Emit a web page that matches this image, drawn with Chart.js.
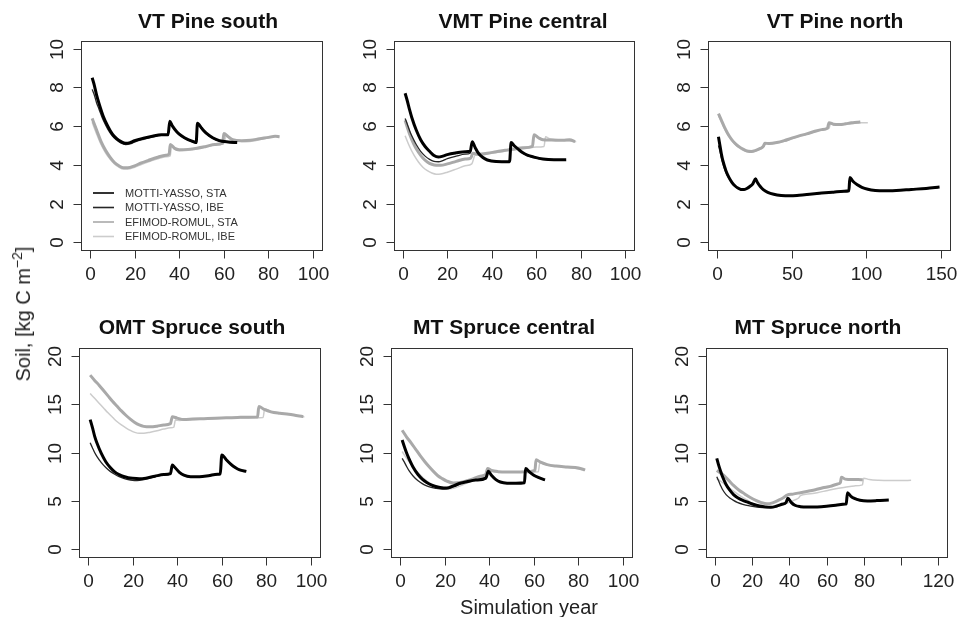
<!DOCTYPE html>
<html>
<head>
<meta charset="utf-8">
<script src="https://cdn.jsdelivr.net/npm/chart.js@4.4.0/dist/chart.umd.min.js"></script>
<style>
body { margin: 0; background: #fff; }
#wrap { position: relative; width: 957px; height: 617px; overflow: hidden; font-family: "Liberation Sans", Arial, sans-serif; }
canvas { position: absolute; left: 0; top: 0; }
.lab { position: absolute; white-space: nowrap; font-size: 20px; line-height: 20px; color: #222; }
.sup { font-size: 14px; position: relative; top: -8px; }
</style>
</head>
<body>
<div id="wrap">
	<canvas id="p1" width="957" height="617"></canvas>
	<canvas id="p2" width="957" height="617"></canvas>
	<canvas id="p3" width="957" height="617"></canvas>
	<canvas id="p4" width="957" height="617"></canvas>
	<canvas id="p5" width="957" height="617"></canvas>
	<canvas id="p6" width="957" height="617"></canvas>
	<div class="lab" style="left:529px;top:607px;transform:translate(-50%,-50%)">Simulation year</div>
	<div class="lab" style="left:24px;top:314px;transform:translate(-50%,-50%) rotate(-90deg)">Soil, [kg C m<span class="sup">−2</span>]</div>
</div>
<script>
//series
const seriesNames = ["MOTTI-YASSO, STA", "MOTTI-YASSO, IBE", "EFIMOD-ROMUL, STA", "EFIMOD-ROMUL, IBE"];
const lineColors = ["#000000", "#262626", "#a9a9a9", "#cccccc"];
const lineWidths = [3, 1.3, 3, 1.5];

//VT Pine south  [year, soil C]
const pineSouthMottiSta = [[1,8.5],[2,8.1],[3,7.6],[4,7.2],[6,6.5],[8,6.0],[10,5.6],[12,5.35],[14,5.2],[16,5.12],[18,5.15],[20,5.25],[24,5.38],[28,5.48],[32,5.55],[35,5.55],[35.8,6.25],[37,6.0],[39,5.7],[41,5.5],[44,5.3],[47,5.17],[47.6,5.15],[48.2,6.15],[50,5.9],[52,5.65],[55,5.4],[58,5.25],[62,5.18],[66,5.15]];
const pineSouthMottiIbe = [[1,7.9],[2,7.6],[3,7.2],[4,6.9],[6,6.3],[8,5.85],[10,5.5],[12,5.28],[14,5.12],[16,5.05],[18,5.08],[20,5.18],[24,5.32],[28,5.44],[32,5.52],[35,5.53],[35.8,6.2],[37,5.97],[39,5.68],[41,5.48],[44,5.28],[47,5.15],[47.6,5.13],[48.2,6.1],[50,5.87],[52,5.62],[55,5.38],[58,5.23],[62,5.16],[64,5.14]];
const pineSouthEfimodSta = [[1,6.4],[3,5.8],[5,5.2],[7,4.75],[9,4.4],[11,4.12],[13,3.95],[15,3.85],[17,3.85],[20,3.95],[23,4.1],[26,4.22],[30,4.38],[34,4.5],[35.5,4.55],[36,5.05],[38,4.85],[40,4.78],[44,4.8],[48,4.86],[52,4.95],[56,5.05],[59.5,5.12],[60,5.62],[62,5.45],[64,5.3],[68,5.25],[72,5.27],[76,5.35],[80,5.42],[83,5.48],[85,5.45]];
const pineSouthEfimodIbe = [[1,6.2],[3,5.6],[5,5.05],[7,4.62],[9,4.3],[11,4.05],[13,3.88],[15,3.78],[17,3.78],[20,3.88],[23,4.02],[26,4.15],[30,4.3],[34,4.42],[36,4.47],[36.5,4.95],[38,4.8],[40,4.73],[44,4.76],[48,4.83],[52,4.92],[56,5.02],[60,5.1],[61,5.5],[63,5.35],[66,5.22],[70,5.2],[74,5.25],[78,5.35],[82,5.42]];

//VMT Pine central
const pineCentralMottiSta = [[1,7.7],[2,7.3],[3,6.85],[4,6.45],[6,5.8],[8,5.3],[10,4.95],[12,4.7],[14,4.48],[16,4.4],[18,4.45],[20,4.53],[24,4.62],[28,4.68],[30.3,4.7],[31.2,5.2],[32.5,4.9],[34,4.6],[36,4.38],[38,4.25],[42,4.17],[48,4.16],[48.7,5.15],[50,5.0],[52,4.8],[54,4.62],[56,4.5],[59,4.4],[63,4.3],[68,4.26],[73.5,4.27]];
const pineCentralMottiIbe = [[1,6.4],[2,6.1],[3,5.78],[4,5.5],[6,5.05],[8,4.7],[10,4.45],[12,4.28],[14,4.18],[16,4.16],[18,4.22],[20,4.32],[24,4.45],[28,4.55],[30.3,4.6],[31.2,5.15],[32.5,4.88],[34,4.58],[36,4.36],[38,4.24],[42,4.16],[48,4.15],[48.7,5.1],[50,4.97],[52,4.78],[54,4.6],[56,4.48],[59,4.38],[63,4.29],[68,4.25],[73,4.26]];
const pineCentralEfimodSta = [[1,6.3],[3,5.6],[5,5.05],[7,4.65],[9,4.35],[11,4.15],[13,4.03],[15,3.98],[17,3.98],[20,4.05],[24,4.18],[28,4.3],[30.5,4.35],[31.5,4.6],[34,4.55],[38,4.6],[42,4.68],[46,4.75],[50,4.82],[54,4.88],[58.3,4.95],[59,5.55],[61,5.4],[63,5.3],[67,5.28],[72,5.27],[75,5.3],[77.5,5.2]];
const pineCentralEfimodIbe = [[1,5.5],[3,4.95],[5,4.5],[7,4.15],[9,3.88],[11,3.7],[13,3.58],[15,3.52],[17,3.53],[20,3.62],[24,3.78],[28,3.95],[31,4.05],[32.5,4.5],[36,4.52],[40,4.6],[44,4.67],[48,4.74],[52,4.8],[56,4.86],[60,4.92],[63.5,4.95],[64.2,5.45],[66,5.35],[70,5.3],[74,5.25],[78,5.2]];

//VT Pine north
const pineNorthMottiSta = [[1,5.45],[2,5.0],[3,4.55],[4,4.2],[6,3.7],[8,3.35],[10,3.1],[12,2.92],[14,2.8],[16,2.73],[18,2.72],[20,2.78],[22,2.88],[24,3.02],[25.8,3.28],[27,3.1],[29,2.88],[31,2.72],[34,2.58],[38,2.48],[43,2.42],[49,2.4],[55,2.43],[62,2.48],[70,2.54],[78,2.59],[85,2.63],[88.3,2.66],[89,3.35],[91,3.15],[94,2.97],[97,2.84],[101,2.74],[106,2.68],[112,2.66],[120,2.68],[130,2.73],[140,2.78],[149,2.85]];
const pineNorthMottiIbe = [[1,5.0],[2,4.7],[3,4.35],[4,4.05],[6,3.6],[8,3.3],[10,3.07],[12,2.9],[14,2.78],[16,2.72],[18,2.71],[20,2.77],[22,2.87],[24,3.0],[25.8,3.25],[27,3.08],[29,2.87],[31,2.71],[34,2.57],[38,2.47],[43,2.41],[49,2.39],[55,2.42],[62,2.47],[70,2.53],[78,2.58],[85,2.62],[88.3,2.65],[89,3.3],[91,3.12],[94,2.95],[97,2.83],[101,2.73],[106,2.67],[112,2.65],[120,2.67],[130,2.72],[140,2.77],[148,2.83]];
const pineNorthEfimodSta = [[1,6.65],[3,6.3],[5,5.95],[7,5.65],[9,5.4],[11,5.2],[13,5.05],[15,4.93],[17,4.83],[19,4.75],[21,4.7],[23,4.69],[26,4.75],[29,4.85],[31,4.95],[32,5.12],[35,5.1],[40,5.15],[45,5.25],[50,5.38],[55,5.5],[60,5.6],[65,5.72],[70,5.82],[74,5.9],[75,6.18],[78,6.1],[82,6.08],[86,6.12],[90,6.17],[94,6.2],[96,6.22]];
const pineNorthEfimodIbe = [[1,6.55],[3,6.22],[5,5.88],[7,5.6],[9,5.35],[11,5.15],[13,5.0],[15,4.88],[17,4.78],[19,4.72],[21,4.67],[23,4.66],[26,4.72],[29,4.82],[31,4.92],[33,5.1],[36,5.08],[40,5.13],[45,5.22],[50,5.35],[55,5.47],[60,5.58],[65,5.7],[70,5.8],[75,5.88],[76,6.12],[79,6.05],[83,6.05],[87,6.1],[92,6.15],[97,6.18],[101,6.17]];

//OMT Spruce south
const spruceSouthMottiSta = [[1,13.4],[2,12.6],[3,11.7],[4,11.0],[6,9.9],[8,9.05],[10,8.45],[12,8.0],[14,7.72],[16,7.52],[18,7.4],[20,7.33],[23,7.28],[26,7.35],[30,7.55],[34,7.72],[37,7.82],[37.8,8.7],[39,8.45],[41,7.95],[43,7.65],[46,7.5],[50,7.5],[54,7.6],[58,7.75],[59.3,7.8],[60,9.75],[62,9.25],[64,8.8],[66,8.45],[68,8.2],[71,8.05]];
const spruceSouthMottiIbe = [[1,11.0],[2,10.5],[3,10.0],[4,9.6],[6,8.95],[8,8.45],[10,8.05],[12,7.75],[14,7.5],[16,7.33],[18,7.2],[20,7.12],[22,7.1],[25,7.2],[28,7.38],[31,7.55],[34,7.7],[37,7.8],[37.8,8.65],[39,8.42],[41,7.92],[43,7.63],[46,7.48],[50,7.48],[54,7.58],[58,7.72],[59.3,7.78],[60,9.7],[62,9.2],[64,8.77],[66,8.42],[68,8.18],[70,8.05]];
const spruceSouthEfimodSta = [[1,18.0],[3,17.45],[5,16.95],[7,16.4],[9,15.85],[11,15.3],[13,14.8],[15,14.3],[17,13.85],[19,13.45],[21,13.1],[23,12.85],[25,12.7],[28,12.65],[31,12.72],[34,12.85],[37,12.98],[37.8,13.7],[40,13.55],[43,13.4],[47,13.45],[52,13.5],[57,13.55],[62,13.58],[67,13.62],[72,13.65],[76,13.66],[76.6,14.75],[79,14.45],[82,14.2],[86,14.05],[90,13.95],[94,13.8],[96.5,13.72]];
const spruceSouthEfimodIbe = [[1,16.1],[3,15.6],[5,15.1],[7,14.6],[9,14.1],[11,13.65],[13,13.2],[15,12.85],[17,12.55],[19,12.28],[21,12.08],[23,11.98],[25,11.98],[28,12.1],[31,12.25],[34,12.42],[37,12.55],[38.5,12.62],[39.2,13.35],[41,13.32],[45,13.38],[50,13.44],[55,13.5],[60,13.53],[65,13.57],[70,13.6],[75,13.6],[78.5,13.62],[79.2,14.5],[82,14.25],[86,14.08],[90,13.95],[94,13.8],[97,13.68]];

//MT Spruce central
const spruceCentralMottiSta = [[1,11.3],[2,10.6],[3,9.95],[4,9.4],[6,8.45],[8,7.75],[10,7.25],[12,6.9],[14,6.65],[16,6.48],[18,6.38],[21,6.32],[24,6.55],[27,6.82],[30,6.98],[34,7.15],[38.5,7.35],[39.6,8.05],[41,7.65],[43,7.2],[45,6.95],[48,6.83],[52,6.82],[55.8,6.87],[56.3,8.35],[58,8.0],[60,7.65],[62,7.42],[65,7.17]];
const spruceCentralMottiIbe = [[1,9.4],[2,9.0],[3,8.55],[4,8.15],[6,7.55],[8,7.1],[10,6.78],[12,6.55],[14,6.4],[16,6.3],[19,6.22],[22,6.3],[25,6.55],[28,6.85],[31,7.0],[35,7.15],[38.5,7.3],[39.6,8.0],[41,7.62],[43,7.18],[45,6.93],[48,6.8],[52,6.8],[55.8,6.85],[56.3,8.3],[58,7.97],[60,7.62],[62,7.4],[65,7.15]];
const spruceCentralEfimodSta = [[1,12.3],[3,11.6],[5,11.0],[7,10.35],[9,9.7],[11,9.1],[13,8.55],[15,8.05],[17,7.6],[19,7.3],[21,7.05],[24,6.85],[27,6.9],[30,7.08],[33,7.3],[36,7.55],[38.5,7.75],[39.3,8.35],[41,8.15],[44,8.02],[48,7.98],[52,7.98],[56,8.0],[60.5,8.15],[61,9.25],[63,9.0],[66,8.75],[70,8.6],[75,8.5],[80,8.4],[83,8.2]];
const spruceCentralEfimodIbe = [[1,10.1],[3,9.4],[5,8.8],[7,8.2],[9,7.7],[11,7.25],[13,6.9],[15,6.6],[17,6.4],[19,6.28],[21,6.22],[24,6.3],[27,6.55],[30,6.85],[33,7.12],[36,7.4],[38.5,7.65],[39.5,8.2],[42,8.02],[46,7.95],[50,7.95],[54,7.96],[58,7.98],[62,8.0],[62.7,8.95],[65,8.75],[69,8.6],[74,8.48],[79,8.35],[83,8.18]];

//MT Spruce north
const spruceNorthMottiSta = [[1,9.4],[2,8.7],[3,8.1],[4,7.55],[6,6.7],[8,6.1],[10,5.65],[12,5.35],[15,5.05],[18,4.83],[21,4.62],[24,4.48],[27,4.38],[30,4.34],[33,4.45],[36,4.65],[38.3,4.85],[39.2,5.28],[41,4.85],[43,4.55],[46,4.4],[50,4.36],[55,4.38],[60,4.45],[65,4.55],[70,4.67],[70.6,4.7],[71.3,5.85],[73,5.5],[75,5.25],[78,5.07],[82,5.0],[87,5.03],[93.5,5.1]];
const spruceNorthMottiIbe = [[1,7.5],[2,7.05],[3,6.6],[4,6.2],[6,5.65],[8,5.3],[10,5.05],[12,4.85],[15,4.65],[18,4.5],[21,4.4],[24,4.33],[27,4.3],[30,4.32],[33,4.43],[36,4.63],[38.3,4.83],[39.2,5.25],[41,4.83],[43,4.53],[46,4.38],[50,4.34],[55,4.36],[60,4.43],[65,4.53],[70,4.65],[70.6,4.68],[71.3,5.8],[73,5.47],[75,5.23],[78,5.05],[82,4.98],[87,5.01],[93,5.08]];
const spruceNorthEfimodSta = [[1,8.15],[4,7.75],[7,7.2],[10,6.6],[13,6.1],[16,5.72],[19,5.35],[22,5.05],[25,4.82],[28,4.7],[31,4.8],[34,5.05],[37,5.35],[38.8,5.6],[42,5.7],[46,5.85],[50,6.0],[54,6.15],[58,6.35],[62,6.5],[66,6.75],[67.5,6.9],[68,7.45],[70,7.25],[74,7.2],[77,7.2],[79.5,7.18]];
const spruceNorthEfimodIbe = [[1,7.3],[4,6.9],[7,6.45],[10,6.0],[13,5.6],[16,5.22],[19,4.88],[22,4.6],[25,4.38],[28,4.25],[31,4.3],[34,4.45],[37,4.65],[40,4.85],[43,5.1],[45,5.3],[46,5.55],[50,5.7],[55,5.85],[60,6.05],[65,6.25],[70,6.4],[75,6.55],[79.3,6.65],[80,7.35],[83,7.2],[88,7.12],[95,7.1],[100,7.1],[105.5,7.12]];

//axes
const pineYTicks = [0, 2, 4, 6, 8, 10];
const spruceYTicks = [0, 5, 10, 15, 20];
const ticks100 = [0, 20, 40, 60, 80, 100];
const ticks150 = [0, 50, 100, 150];
const ticks120 = [0, 20, 40, 60, 80, 100, 120];
const labels120 = ["0", "20", "40", "60", "80", "", "120"];

const FONT = '"Liberation Sans", Arial, Helvetica, sans-serif';

const rAxes = {
	id: "rAxes",
	afterDraw(chart, args, o) {
		const { ctx, chartArea: a, scales } = chart;
		const sx = scales.x, sy = scales.y;
		ctx.save();
		ctx.strokeStyle = "#333";
		ctx.lineWidth = 1;
		ctx.strokeRect(Math.round(a.left) + 0.5, Math.round(a.top) + 0.5, Math.round(a.right - a.left), Math.round(a.bottom - a.top));
		ctx.fillStyle = "#222";
		ctx.font = "19px " + FONT;
		ctx.textAlign = "center";
		ctx.textBaseline = "alphabetic";
		const yb = Math.round(a.bottom) + 0.5;
		o.xTicks.forEach((v, i) => {
			const px = Math.round(sx.getPixelForValue(v)) + 0.5;
			ctx.beginPath(); ctx.moveTo(px, yb); ctx.lineTo(px, yb + 8); ctx.stroke();
			const lab = o.xLabels ? o.xLabels[i] : String(v);
			if (lab) ctx.fillText(lab, px, a.bottom + 30);
		});
		const xl = Math.round(a.left) + 0.5;
		o.yTicks.forEach(v => {
			const py = Math.round(sy.getPixelForValue(v)) + 0.5;
			ctx.beginPath(); ctx.moveTo(xl - 8, py); ctx.lineTo(xl, py); ctx.stroke();
			ctx.save();
			ctx.translate(a.left - 18, py);
			ctx.rotate(-Math.PI / 2);
			ctx.fillText(String(v), 0, 0);
			ctx.restore();
		});
		ctx.font = "bold 21px " + FONT;
		ctx.fillStyle = "#111";
		ctx.fillText(o.title, o.titleX, o.titleY);
		if (o.legend) {
			ctx.font = "11px " + FONT;
			ctx.textAlign = "left";
			ctx.textBaseline = "middle";
			chart.data.datasets.forEach((ds, i) => {
				const ry = o.legend.rows[i];
				ctx.strokeStyle = ds.borderColor;
				ctx.lineWidth = 1.6;
				ctx.beginPath(); ctx.moveTo(o.legend.x0, ry); ctx.lineTo(o.legend.x1, ry); ctx.stroke();
				ctx.fillStyle = "#333";
				ctx.fillText(ds.label, o.legend.tx, ry + 0.5);
			});
		}
		ctx.restore();
	}
};

function makePanel(id, series, box, xr, yr, opts) {
	const datasets = series.map((pts, i) => ({
		label: seriesNames[i],
		data: pts.map(([x, y]) => ({ x, y })),
		borderColor: lineColors[i],
		borderWidth: lineWidths[i],
		pointRadius: 0,
		fill: false,
		cubicInterpolationMode: "monotone",
	}));
	return new Chart(document.getElementById(id), {
		type: "line",
		data: { datasets },
		options: {
			responsive: false,
			animation: false,
			events: [],
			layout: { padding: { left: box[0], right: 957 - box[1], top: box[2], bottom: 617 - box[3] } },
			scales: {
				x: { type: "linear", display: false, min: xr[0], max: xr[1] },
				y: { type: "linear", display: false, min: yr[0], max: yr[1] },
			},
			plugins: { legend: { display: false }, tooltip: { enabled: false }, rAxes: opts },
		},
		plugins: [rAxes],
	});
}

makePanel("p1", [pineSouthMottiSta, pineSouthMottiIbe, pineSouthEfimodSta, pineSouthEfimodIbe],
	[81, 322, 41, 250], [-4, 104], [-0.4, 10.4],
	{ title: "VT Pine south", titleX: 208, titleY: 27.5, xTicks: ticks100, yTicks: pineYTicks,
	  legend: { x0: 93, x1: 114, tx: 125, rows: [193, 207.5, 222, 236.5] } });
makePanel("p2", [pineCentralMottiSta, pineCentralMottiIbe, pineCentralEfimodSta, pineCentralEfimodIbe],
	[394, 634, 41, 250], [-4, 104], [-0.4, 10.4],
	{ title: "VMT Pine central", titleX: 523, titleY: 27.5, xTicks: ticks100, yTicks: pineYTicks });
makePanel("p3", [pineNorthMottiSta, pineNorthMottiIbe, pineNorthEfimodSta, pineNorthEfimodIbe],
	[708, 950, 41, 250], [-6, 156], [-0.4, 10.4],
	{ title: "VT Pine north", titleX: 835, titleY: 27.5, xTicks: ticks150, yTicks: pineYTicks });
makePanel("p4", [spruceSouthMottiSta, spruceSouthMottiIbe, spruceSouthEfimodSta, spruceSouthEfimodIbe],
	[79, 320, 348, 557], [-4, 104], [-0.8, 20.8],
	{ title: "OMT Spruce south", titleX: 192, titleY: 333.5, xTicks: ticks100, yTicks: spruceYTicks });
makePanel("p5", [spruceCentralMottiSta, spruceCentralMottiIbe, spruceCentralEfimodSta, spruceCentralEfimodIbe],
	[391, 632, 348, 557], [-4, 104], [-0.8, 20.8],
	{ title: "MT Spruce central", titleX: 504, titleY: 333.5, xTicks: ticks100, yTicks: spruceYTicks });
makePanel("p6", [spruceNorthMottiSta, spruceNorthMottiIbe, spruceNorthEfimodSta, spruceNorthEfimodIbe],
	[706, 947, 348, 557], [-4.8, 124.8], [-0.8, 20.8],
	{ title: "MT Spruce north", titleX: 818, titleY: 333.5, xTicks: ticks120, xLabels: labels120, yTicks: spruceYTicks });
</script>
</body>
</html>
